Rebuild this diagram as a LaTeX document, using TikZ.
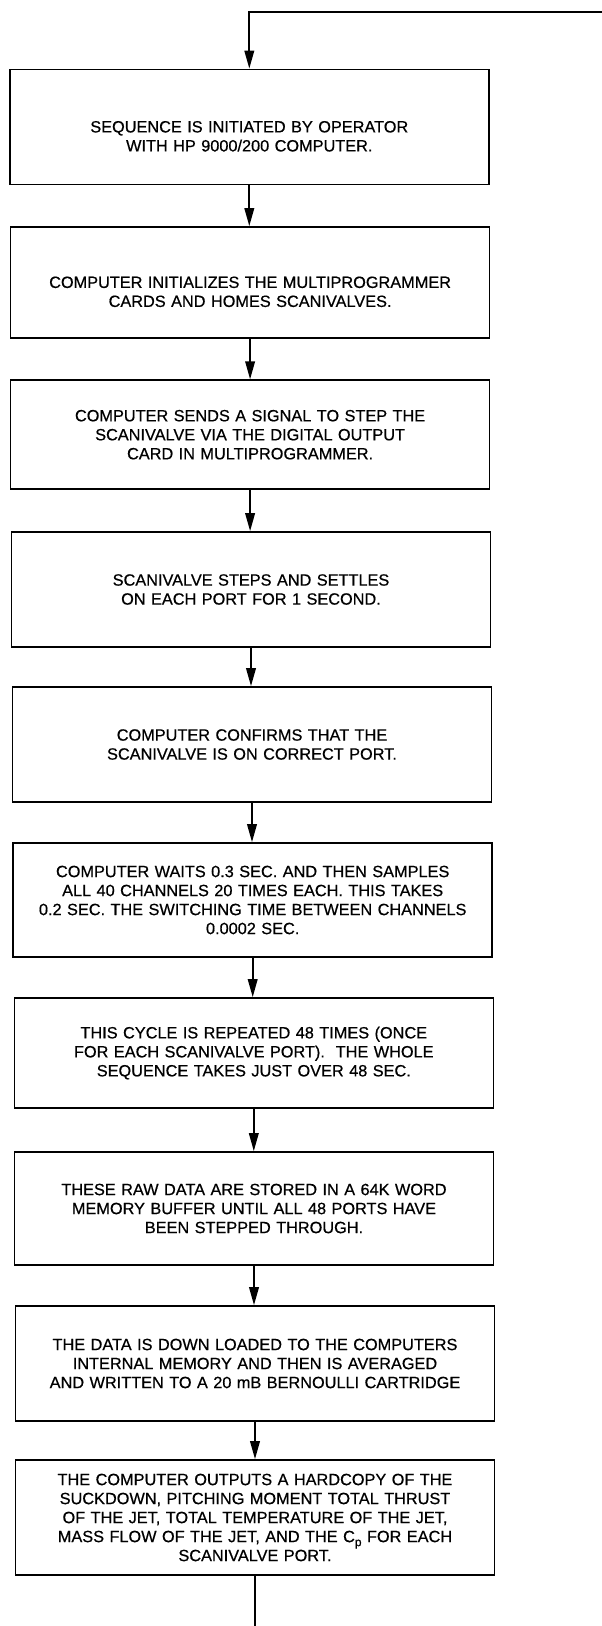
\documentclass[tikz,border=0pt]{standalone}
\usepackage{fontspec}
\setmainfont{Liberation Sans}[FakeBold=0.6]
\newfontfamily\boxfont{Liberation Sans}[FakeBold=0.6]
\usetikzlibrary{arrows.meta}
\tikzset{
  box/.style={draw, line width=1.6pt, minimum width=479pt, inner xsep=4.5pt, inner ysep=0pt,
    text width=470pt, align=center, font=\boxfont\fontsize{16.3pt}{19pt}\selectfont},
  arr/.style={line width=2pt, -{Triangle[length=18pt,width=9.5pt]}},
  plain/.style={line width=2pt}
}
\newcommand{\dn}{\rule{0pt}{30pt}}
\begin{document}
\begin{tikzpicture}[x=1pt,y=-1pt]
\useasboundingbox (0,0) rectangle (602,1626);
\node[box, minimum height=115pt] (b1) at (249.3,127) {\dn SEQUENCE IS INITIATED BY OPERATOR\\WITH HP 9000/200 COMPUTER.};
\node[box, minimum height=111pt] (b2) at (250.1,282.5) {\dn COMPUTER INITIALIZES THE MULTIPROGRAMMER\\CARDS AND HOMES SCANIVALVES.};
\node[box, minimum height=109pt] (b3) at (250.1,434.7) {COMPUTER SENDS A SIGNAL TO STEP THE\\SCANIVALVE VIA THE DIGITAL OUTPUT\\CARD IN MULTIPROGRAMMER.};
\node[box, minimum height=115pt] (b4) at (251,589.5) {SCANIVALVE STEPS AND SETTLES\\ON EACH PORT FOR 1 SECOND.};
\node[box, minimum height=115pt] (b5) at (252,744.5) {COMPUTER CONFIRMS THAT THE\\SCANIVALVE IS ON CORRECT PORT.};
\node[box, minimum height=114pt] (b6) at (252.7,900) {COMPUTER WAITS 0.3 SEC. AND THEN SAMPLES\\ALL 40 CHANNELS 20 TIMES EACH. THIS TAKES\\0.2 SEC. THE SWITCHING TIME BETWEEN CHANNELS\\0.0002 SEC.};
\node[box, minimum height=110pt] (b7) at (253.8,1053) {THIS CYCLE IS REPEATED 48 TIMES (ONCE\\FOR EACH SCANIVALVE PORT).~ THE WHOLE\\SEQUENCE TAKES JUST OVER 48 SEC.};
\node[box, minimum height=113pt] (b8) at (254,1208.5) {THESE RAW DATA ARE STORED IN A 64K WORD\\MEMORY BUFFER UNTIL ALL 48 PORTS HAVE\\BEEN STEPPED THROUGH.};
\node[box, minimum height=115pt] (b9) at (255,1363.5) {THE DATA IS DOWN LOADED TO THE COMPUTERS\\INTERNAL MEMORY AND THEN IS AVERAGED\\AND WRITTEN TO A 20 mB BERNOULLI CARTRIDGE};
\node[box, minimum height=115pt] (b10) at (255,1517.5) {THE COMPUTER OUTPUTS A HARDCOPY OF THE\\SUCKDOWN, PITCHING MOMENT TOTAL THRUST\\OF THE JET, TOTAL TEMPERATURE OF THE JET,\\MASS FLOW OF THE JET, AND THE C\raisebox{-4pt}{\fontsize{12pt}{12pt}\selectfont p} FOR EACH\\SCANIVALVE PORT.};
\coordinate (topR) at (602,12);
\coordinate (botE) at (255,1626);
\draw[arr] (topR) -| (b1.north);
\draw[arr] (b1.south) -- (b1.south |- b2.north);
\draw[arr] (b2.south) -- (b2.south |- b3.north);
\draw[arr] (b3.south) -- (b3.south |- b4.north);
\draw[arr] (b4.south) -- (b4.south |- b5.north);
\draw[arr] (b5.south) -- (b5.south |- b6.north);
\draw[arr] (b6.south) -- (b6.south |- b7.north);
\draw[arr] (b7.south) -- (b7.south |- b8.north);
\draw[arr] (b8.south) -- (b8.south |- b9.north);
\draw[arr] (b9.south) -- (b9.south |- b10.north);
\draw[plain] (b10.south) -- (botE);
\end{tikzpicture}
\end{document}
